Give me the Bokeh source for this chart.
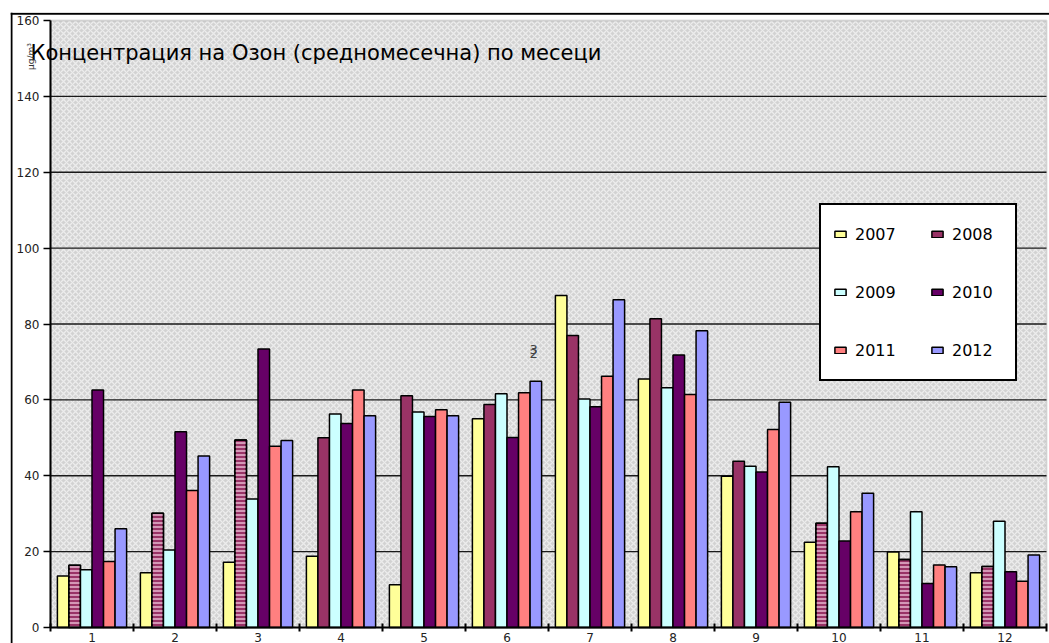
import numpy as np
from bokeh.plotting import figure
from bokeh.models import (ColumnDataSource, Range1d, FixedTicker, Legend, LegendItem,
                          Label, BoxAnnotation, CDSView, IndexFilter, LinearAxis, Span)
from bokeh.transform import dodge
from bokeh.embed import file_html
from bokeh.resources import INLINE

# ---- data ----
months = list(range(1, 13))
month_labels = [str(m) for m in months]
years = ["2007", "2008", "2009", "2010", "2011", "2012"]
v2007 = [13.6, 14.4, 17.2, 18.8, 11.3, 55.0, 87.5, 65.5, 39.9, 22.5, 19.9, 14.4]
v2008 = [16.4, 30.1, 49.4, 50.0, 61.1, 58.8, 77.0, 81.4, 43.8, 27.5, 17.9, 16.1]
v2009 = [15.2, 20.4, 33.9, 56.3, 56.8, 61.6, 60.2, 63.2, 42.5, 42.4, 30.5, 28.0]
v2010 = [62.6, 51.6, 73.4, 53.8, 55.6, 50.1, 58.2, 71.8, 41.0, 22.8, 11.6, 14.7]
v2011 = [17.4, 36.1, 47.8, 62.6, 57.4, 61.9, 66.2, 61.4, 52.2, 30.5, 16.5, 12.2]
v2012 = [26.0, 45.2, 49.3, 55.8, 55.8, 64.9, 86.4, 78.2, 59.4, 35.4, 16.0, 19.1]
hatched_2008 = [1, 2, 3, 10, 11, 12]
y_ticks = [0, 20, 40, 60, 80, 100, 120, 140, 160]
grid_ticks = [20, 40, 60, 80, 100, 120, 140]
title_text = "Концентрация на Озон (средномесечна) по месеци"
unit_text = "µg/m³"
stray_texts = ["2", "3"]

colors = ["#FFFF99", "#993366", "#CCFFFF", "#660066", "#FF8080", "#9999FF"]

src = ColumnDataSource(dict(month=months, y2007=v2007, y2008=v2008, y2009=v2009,
                            y2010=v2010, y2011=v2011, y2012=v2012))

# page geometry (canvas = page): frame spans x 10..1049, y 12..643
PX_X = 83.0                     # px per month (0.5 -> x=50, 12.5 -> x=1046)
PX_Y = (627.0 - 20.0) / 160.0   # px per unit (160 -> y=20, 0 -> y=627)
x0 = 0.5 - 40 / PX_X
x1 = 12.5 + 3 / PX_X
y1 = 160 + 8 / PX_Y
y0 = -16 / PX_Y

W, H = 1049, 643
p = figure(width=W, height=H, output_backend="svg", toolbar_location=None,
           x_range=Range1d(x0, x1), y_range=Range1d(y0, y1),
           x_axis_location=None, y_axis_location=None,
           min_border_left=10, min_border_right=0, min_border_top=12, min_border_bottom=0)
p.background_fill_color = "white"
p.border_fill_color = "white"
p.outline_line_color = None
p.xgrid.visible = False
p.ygrid.visible = False

bg = BoxAnnotation(left=0.5, right=12.5, bottom=0, top=160, fill_color="#d2d2d2", fill_alpha=1,
                   line_color="#9a9a9a", line_width=2,
                   hatch_pattern="diagonal_cross", hatch_color="#ececec",
                   hatch_scale=6, hatch_weight=1.3, level="image")
p.add_layout(bg)

# horizontal grid lines
p.segment(x0=[0.5] * len(grid_ticks), x1=[12.5] * len(grid_ticks), y0=grid_ticks, y1=grid_ticks,
          line_color="#1a1a1a", line_width=1.3)

bw = 0.139
renderers = []
for i, (yr, c) in enumerate(zip(years, colors)):
    off = (i - 2.5) * bw
    r = p.vbar(x=dodge("month", off), top="y" + yr, width=bw, source=src,
               fill_color=c, line_color="black", line_width=1.5)
    renderers.append(r)
    if yr == "2008":
        idx = [months.index(m) for m in hatched_2008]
        p.vbar(x=dodge("month", off), top="y" + yr, width=bw, source=src,
               view=CDSView(filter=IndexFilter(idx)), fill_alpha=0,
               line_color="black", line_width=1.5, hatch_pattern="horizontal_line",
               hatch_color="#e8b8d0", hatch_scale=4, hatch_weight=1.5)

# axes at fixed locations inside the frame
xaxis = LinearAxis(fixed_location=0, bounds=(0.5, 12.5),
                   ticker=FixedTicker(ticks=months, minor_ticks=[m + 0.5 for m in range(0, 13)]))
xaxis.major_label_overrides = {m: l for m, l in zip(months, month_labels)}
xaxis.major_tick_in = 0
xaxis.major_tick_out = 0
xaxis.minor_tick_in = 4
xaxis.minor_tick_out = 4
xaxis.minor_tick_line_color = "black"
xaxis.minor_tick_line_width = 2
xaxis.axis_line_width = 2
xaxis.axis_line_color = "black"
xaxis.major_label_standoff = 1
xaxis.major_label_text_font = "DejaVu Sans"
xaxis.major_label_text_font_size = "12px"
xaxis.major_label_text_color = "#222222"
p.add_layout(xaxis, "below")

yaxis = LinearAxis(fixed_location=0.5, bounds=(0, 160), ticker=FixedTicker(ticks=y_ticks))
yaxis.major_tick_in = 0
yaxis.major_tick_out = 7
yaxis.major_tick_line_width = 1.5
yaxis.major_tick_line_color = "black"
yaxis.minor_tick_line_color = None
yaxis.axis_line_width = 2
yaxis.axis_line_color = "black"
yaxis.major_label_standoff = 4
yaxis.major_label_text_font = "DejaVu Sans"
yaxis.major_label_text_font_size = "12px"
yaxis.major_label_text_color = "#222222"
p.add_layout(yaxis, "left")

# outer chart frame (left and top edges)
p.add_layout(Span(location=x0 + 1.0 / PX_X, dimension="height", line_color="black", line_width=2))
p.add_layout(Span(location=y1 - 1.3 / PX_Y, dimension="width", line_color="black", line_width=2))

# title and unit
p.add_layout(Label(x=0.5 - 20 / PX_X, y=160 - 32 / PX_Y, text=title_text,
                   text_font="DejaVu Sans", text_font_size="21px", text_color="black",
                   text_align="left", text_baseline="middle"))
p.add_layout(Label(x=0.5 - 20 / PX_X, y=160 - 36 / PX_Y, text=unit_text,
                   angle=np.pi / 2, text_font="DejaVu Sans", text_font_size="9px",
                   text_color="#333333", text_align="center", text_baseline="middle"))

# stray characters
p.add_layout(Label(x=6.32, y=72.2, text=stray_texts[0], text_font="DejaVu Sans",
                   text_font_size="13px", text_align="center", text_baseline="middle"))
p.add_layout(Label(x=6.32, y=73.3, text=stray_texts[1], text_font="DejaVu Sans",
                   text_font_size="13px", text_align="center", text_baseline="middle"))

legend = Legend(items=[LegendItem(label=yr, renderers=[r]) for yr, r in zip(years, renderers)],
                location=(809, 262), orientation="horizontal", ncols=2,
                glyph_width=14, glyph_height=8, label_standoff=8, label_width=51,
                label_height=34, spacing=24, padding=12, margin=0,
                border_line_color="black", border_line_width=2, border_line_alpha=1,
                background_fill_color="white", background_fill_alpha=1,
                label_text_font="DejaVu Sans", label_text_font_size="16px",
                label_text_color="black")
p.add_layout(legend)

open("out.html", "w").write(file_html(p, INLINE))
